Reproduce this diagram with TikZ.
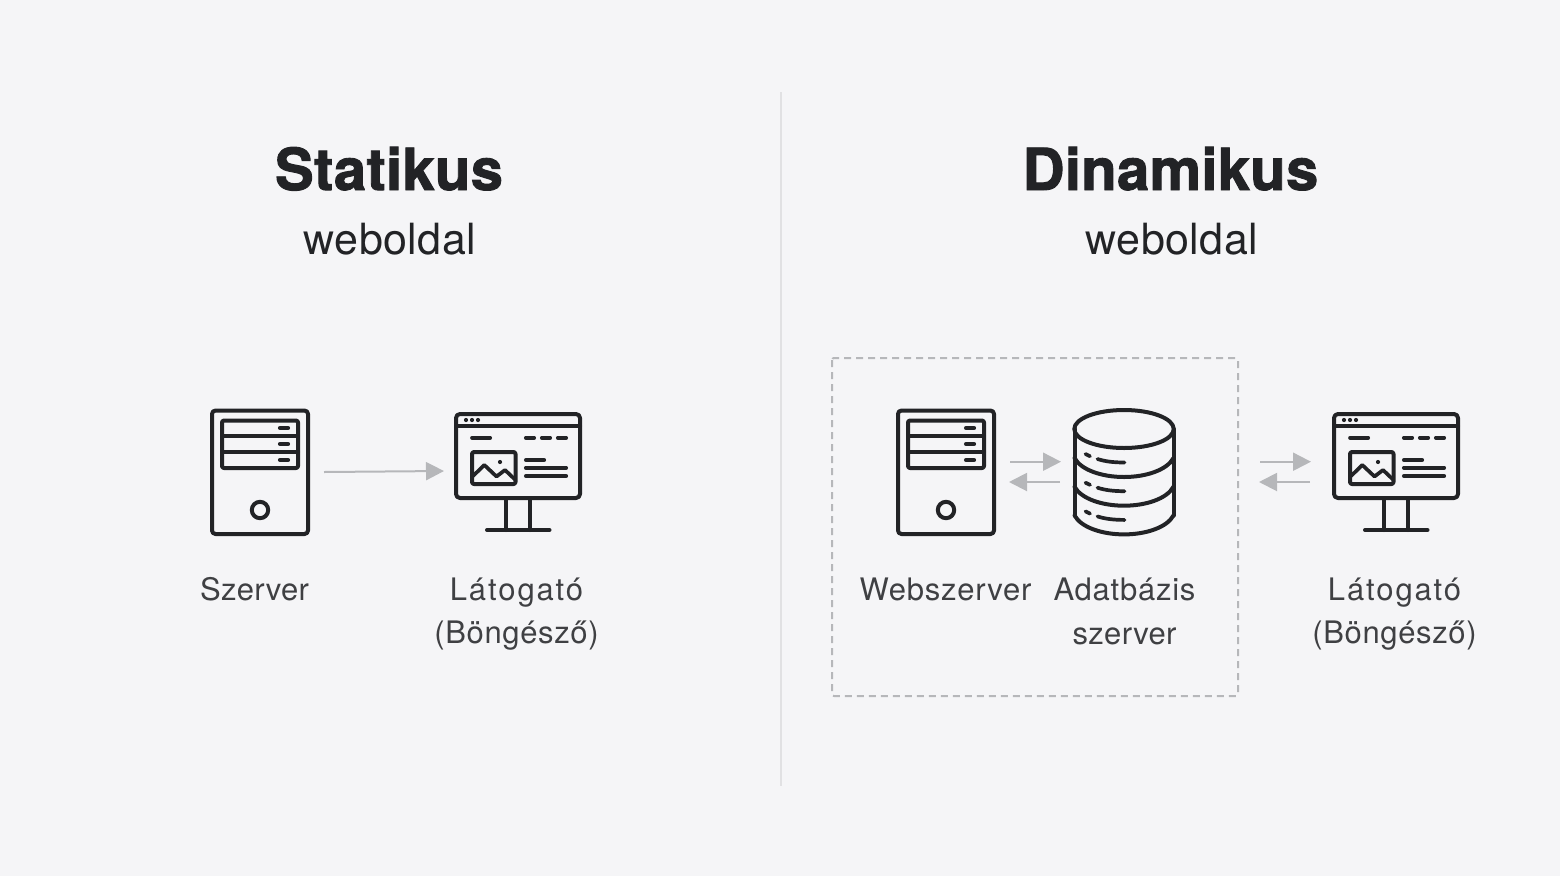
\documentclass[tikz,border=0pt]{standalone}
\usepackage{fontspec}
\setmainfont{TeX Gyre Heros}
\newfontfamily\titlefont[BoldFeatures={FakeBold=1.6}]{TeX Gyre Heros}
\newcommand{\lsp}[2]{{\addfontfeature{LetterSpace=#1}#2}}
\usetikzlibrary{arrows.meta}
\definecolor{bgc}{HTML}{F5F5F7}
\definecolor{ink}{HTML}{222326}
\definecolor{lab}{HTML}{3F4043}
\definecolor{arr}{HTML}{B6B7BA}
\definecolor{rule}{HTML}{E1E1E3}
\tikzset{
  x=1pt,y=-1pt,
  icon/.style={draw=ink,line width=4pt,line cap=round,line join=round},
  iconthin/.style={draw=ink,line width=3.7pt,line cap=round,line join=round},
  title/.style={font=\titlefont\fontsize{58}{58}\selectfont\bfseries,text=ink,anchor=base,inner sep=0pt},
  subtitle/.style={font=\fontsize{43}{43}\selectfont,text=ink,anchor=base,inner sep=0pt},
  label/.style={font=\fontsize{31}{31}\selectfont,text=lab,anchor=base,inner sep=0pt},
  flow/.style={draw=arr,line width=2pt,-{Triangle[length=18pt,width=18pt,fill=arr]}},
  servericon/.pic={
    \draw[icon,rounded corners=3.5pt] (212,410.5) rectangle (308,534);
    \draw[icon,rounded corners=2pt] (222,420.5) rectangle (298,468);
    \draw[icon] (222,436)--(298,436) (222,452)--(298,452);
    \draw[iconthin] (279.8,428)--(288.2,428) (279.8,444)--(288.2,444) (279.8,460)--(288.2,460);
    \draw[icon] (260,510) circle (8.2);
  },
  monitoricon/.pic={
    \draw[icon,rounded corners=4pt] (456,414) rectangle (580,498);
    \draw[icon] (456,425.5)--(580,425.5);
    \fill[ink] (466,420) circle (2.1) (472,420) circle (2.1) (478,420) circle (2.1);
    \draw[iconthin] (472,437.7)--(490.2,437.7) (525.8,437.7)--(534.2,437.7) (541.8,437.7)--(550.2,437.7) (557.8,437.7)--(566.2,437.7);
    \draw[icon,rounded corners=2pt] (472,452) rectangle (515.5,484);
    \draw[iconthin] (473,476)--(484.3,465)--(496.5,476.5)--(505,470)--(515,479.5);
    \fill[ink] (500,462) circle (2.1);
    \draw[iconthin] (525.8,460)--(544.2,460) (525.8,467.7)--(566.2,467.7) (525.8,476)--(566.2,476);
    \draw[icon] (506,498)--(506,530) (530,498)--(530,530) (487,530)--(549.5,530);
  },
  dbicon/.pic={
    \draw[icon] (1124,429) ellipse (49.7 and 19);
    \draw[icon] (1074.5,429)--(1074.5,515.5) (1173.5,429)--(1173.5,515.5);
    \foreach \dy in {0,28.7,57.4}{
      \draw[icon] (1074.5,458+\dy) .. controls (1081,470+\dy) and (1102,477+\dy) .. (1124,477+\dy)
        .. controls (1146,477+\dy) and (1167,470+\dy) .. (1173.5,458+\dy);
      \draw[iconthin] (1085.5,454+\dy)--(1090,456.2+\dy);
      \draw[iconthin] (1097.5,459+\dy) .. controls (1105,461.5+\dy) and (1114,462.5+\dy) .. (1124.5,462.5+\dy);
    }
  }
}
\begin{document}
\begin{tikzpicture}
\path[fill=bgc,use as bounding box] (0,0) rectangle (1560,876);
\coordinate (ruleTop) at (781,92);
\coordinate (ruleBot) at (781,786);
\draw[rule,line width=2pt] (ruleTop)--(ruleBot);
\node[title] (t1) at (389,190) {\lsp{0.5}{Statikus}};
\node[subtitle] (s1) at (390,254) {\lsp{1}{weboldal}};
\node[title] (t2) at (1170.5,190) {\lsp{0.5}{Dinamikus}};
\node[subtitle] (s2) at (1172,254) {\lsp{1}{weboldal}};
\draw[arr,line width=2pt,dash pattern=on 7pt off 5pt,rounded corners=2pt] (832,358) rectangle (1238,696);
\pic {servericon};
\pic {monitoricon};
\pic[shift={(686,0)}] {servericon};
\pic {dbicon};
\pic[shift={(878,0)}] {monitoricon};
\node[label] (l1) at (254.5,600) {\lsp{1}{Szerver}};
\node[label] (l2) at (516.5,600) {\lsp{6.2}{Látogató}};
\node[label] (l3) at (516.5,643) {\lsp{2.1}{(Böngésző)}};
\node[label] (l4) at (945.5,600) {\lsp{2.5}{Webszerver}};
\node[label] (l5) at (1124.5,600) {\lsp{2.4}{Adatbázis}};
\node[label] (l6) at (1124.5,644) {\lsp{1}{szerver}};
\node[label] (l7) at (1394.5,600) {\lsp{6.2}{Látogató}};
\node[label] (l8) at (1394.5,643) {\lsp{2.1}{(Böngésző)}};
\coordinate (a1s) at (324,472); \coordinate (a1e) at (444,471);
\coordinate (a2s) at (1010,461.7); \coordinate (a2e) at (1061,461.7);
\coordinate (a3s) at (1060,482); \coordinate (a3e) at (1009,482);
\coordinate (a4s) at (1260,461.7); \coordinate (a4e) at (1311,461.7);
\coordinate (a5s) at (1310,482); \coordinate (a5e) at (1259,482);
\draw[flow] (a1s)--(a1e);
\draw[flow] (a2s)--(a2e);
\draw[flow] (a3s)--(a3e);
\draw[flow] (a4s)--(a4e);
\draw[flow] (a5s)--(a5e);
\end{tikzpicture}
\end{document}
